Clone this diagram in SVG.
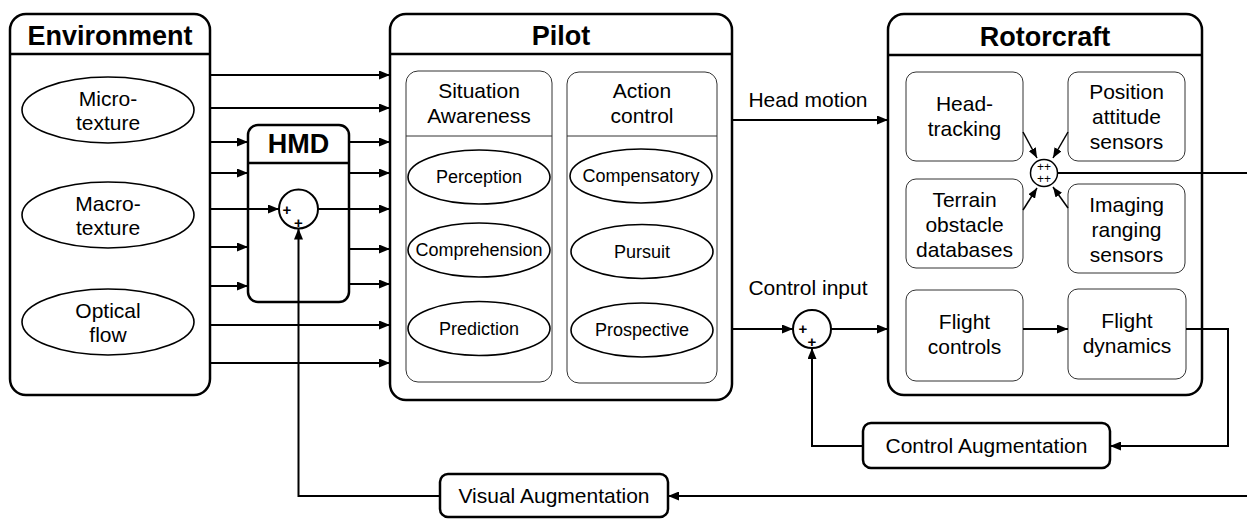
<svg xmlns="http://www.w3.org/2000/svg" width="1247" height="519" viewBox="0 0 1247 519">
<defs>
<marker id="ah" markerUnits="userSpaceOnUse" markerWidth="11" markerHeight="9" refX="11" refY="4.5" orient="auto"><path d="M0,0 L11,4.5 L0,9 z" fill="#000"/></marker>
<marker id="ahs" markerUnits="userSpaceOnUse" markerWidth="10" markerHeight="8" refX="10" refY="4" orient="auto"><path d="M0,0 L10,4 L0,8 z" fill="#000"/></marker>
<style>
.box{fill:#fff;stroke:#000;stroke-width:2.5}
.inner{fill:#fff;stroke:#333;stroke-width:1}
.el{fill:#fff;stroke:#000;stroke-width:1.6}
.hl{stroke:#000;stroke-width:2.5}
.il{stroke:#333;stroke-width:1}
.t{font-family:"Liberation Sans",Arial,sans-serif;font-size:21px;text-anchor:middle;fill:#000}
.s{font-size:18px}
.title{font-weight:bold;font-size:27px}
.pl{font-weight:bold;font-size:15px}
.pp{font-size:12px}
.c{fill:none;stroke:#000;stroke-width:2}
.ca{fill:none;stroke:#000;stroke-width:2;marker-end:url(#ah)}
.cs{fill:none;stroke:#000;stroke-width:1.5;marker-end:url(#ahs)}
.sum{fill:#fff;stroke:#000;stroke-width:2}
</style>
</defs>

<g id="environment">
  <rect class="box" x="10" y="14" width="200" height="381" rx="16"/>
  <line class="hl" x1="10" y1="54" x2="210" y2="54"/>
  <text class="t title" x="110" y="45">Environment</text>
  <ellipse class="el" cx="108" cy="110" rx="86" ry="33"/>
  <text class="t" x="108" y="106">Micro-</text>
  <text class="t" x="108" y="130">texture</text>
  <ellipse class="el" cx="108" cy="215" rx="86" ry="33"/>
  <text class="t" x="108" y="211">Macro-</text>
  <text class="t" x="108" y="235">texture</text>
  <ellipse class="el" cx="108" cy="322" rx="86" ry="33"/>
  <text class="t" x="108" y="318">Optical</text>
  <text class="t" x="108" y="342">flow</text>
</g>

<g id="hmd">
  <rect class="box" x="248" y="125" width="101" height="177" rx="10"/>
  <line class="hl" x1="248" y1="163" x2="349" y2="163"/>
  <text class="t title" x="298.5" y="153">HMD</text>
  <circle class="sum" cx="298.5" cy="209" r="19.5"/>
  <text class="t pl" x="287" y="215">+</text>
  <text class="t pl" x="298.5" y="228">+</text>
</g>

<g id="pilot">
  <rect class="box" x="390" y="14" width="342" height="386" rx="16"/>
  <line class="hl" x1="390" y1="54" x2="732" y2="54"/>
  <text class="t title" x="561" y="45">Pilot</text>
  <rect class="inner" x="406" y="71" width="146" height="311" rx="12"/>
  <line class="il" x1="406" y1="136" x2="552" y2="136"/>
  <text class="t" x="479" y="98">Situation</text>
  <text class="t" x="479" y="123">Awareness</text>
  <rect class="inner" x="567" y="72" width="150" height="311" rx="12"/>
  <line class="il" x1="567" y1="136" x2="717" y2="136"/>
  <text class="t" x="642" y="98">Action</text>
  <text class="t" x="642" y="123">control</text>
  <ellipse class="el" cx="479" cy="177" rx="71" ry="27"/>
  <text class="t s" x="479" y="183">Perception</text>
  <ellipse class="el" cx="479" cy="250" rx="71" ry="27"/>
  <text class="t s" x="479" y="256">Comprehension</text>
  <ellipse class="el" cx="479" cy="328.5" rx="71" ry="27"/>
  <text class="t s" x="479" y="335">Prediction</text>
  <ellipse class="el" cx="641" cy="176" rx="71" ry="27"/>
  <text class="t s" x="641" y="182">Compensatory</text>
  <ellipse class="el" cx="642" cy="251.5" rx="71" ry="27"/>
  <text class="t s" x="642" y="258">Pursuit</text>
  <ellipse class="el" cx="642" cy="330" rx="71" ry="27"/>
  <text class="t s" x="642" y="336">Prospective</text>
</g>

<g id="rotorcraft">
  <rect class="box" x="888" y="14" width="314" height="381" rx="16"/>
  <line class="hl" x1="888" y1="55" x2="1202" y2="55"/>
  <text class="t title" x="1045" y="46">Rotorcraft</text>
  <rect class="inner" x="906" y="72" width="117" height="89" rx="10"/>
  <text class="t" x="964.5" y="111">Head-</text>
  <text class="t" x="964.5" y="136">tracking</text>
  <rect class="inner" x="1068" y="72" width="117" height="89" rx="10"/>
  <text class="t" x="1126.5" y="99">Position</text>
  <text class="t" x="1126.5" y="124">attitude</text>
  <text class="t" x="1126.5" y="149">sensors</text>
  <rect class="inner" x="906" y="179" width="117" height="89" rx="10"/>
  <text class="t" x="964.5" y="207">Terrain</text>
  <text class="t" x="964.5" y="232">obstacle</text>
  <text class="t" x="964.5" y="257">databases</text>
  <rect class="inner" x="1068" y="184" width="117" height="89" rx="10"/>
  <text class="t" x="1126.5" y="212">Imaging</text>
  <text class="t" x="1126.5" y="237">ranging</text>
  <text class="t" x="1126.5" y="262">sensors</text>
  <rect class="inner" x="906" y="290" width="117" height="91" rx="10"/>
  <text class="t" x="964.5" y="329">Flight</text>
  <text class="t" x="964.5" y="354">controls</text>
  <rect class="inner" x="1068" y="289" width="118" height="90" rx="10"/>
  <text class="t" x="1127" y="328">Flight</text>
  <text class="t" x="1127" y="353">dynamics</text>
  <circle cx="1044" cy="173" r="13.5" fill="#fff" stroke="#000" stroke-width="1.5"/>
  <text class="t pp" x="1044" y="171">++</text>
  <text class="t pp" x="1044" y="183">++</text>
</g>

<g id="control-sum">
  <circle class="sum" cx="812" cy="329" r="19"/>
  <text class="t pl" x="803" y="334">+</text>
  <text class="t pl" x="812" y="347">+</text>
</g>

<g id="control-augmentation">
  <rect class="box" x="863" y="423" width="247" height="45" rx="8"/>
  <text class="t" x="986.5" y="453">Control Augmentation</text>
</g>

<g id="visual-augmentation">
  <rect class="box" x="440" y="474" width="228" height="43" rx="8"/>
  <text class="t" x="554" y="503">Visual Augmentation</text>
</g>

<g id="connectors">
  <line class="ca" x1="210" y1="75" x2="390" y2="75"/>
  <line class="ca" x1="210" y1="108" x2="390" y2="108"/>
  <line class="ca" x1="210" y1="325" x2="390" y2="325"/>
  <line class="ca" x1="210" y1="363" x2="390" y2="363"/>
  <line class="ca" x1="210" y1="142" x2="248" y2="142"/>
  <line class="ca" x1="210" y1="173" x2="248" y2="173"/>
  <line class="ca" x1="210" y1="247" x2="248" y2="247"/>
  <line class="ca" x1="210" y1="286" x2="248" y2="286"/>
  <line class="ca" x1="210" y1="209" x2="279" y2="209"/>
  <line class="ca" x1="349" y1="142" x2="390" y2="142"/>
  <line class="ca" x1="349" y1="173" x2="390" y2="173"/>
  <line class="ca" x1="318" y1="209" x2="390" y2="209"/>
  <line class="ca" x1="349" y1="249" x2="390" y2="249"/>
  <line class="ca" x1="349" y1="284" x2="390" y2="284"/>
  <line class="ca" x1="732" y1="120" x2="888" y2="120"/>
  <line class="ca" x1="732" y1="329" x2="793" y2="329"/>
  <line class="ca" x1="831" y1="329" x2="888" y2="329"/>
  <line class="ca" x1="1023" y1="329" x2="1068" y2="329"/>
  <path class="ca" d="M1186,329 H1228 V446 H1110"/>
  <path class="ca" d="M863,446 H812 V348"/>
  <path class="ca" d="M1247,496 H668"/>
  <path class="ca" d="M440,496 H298.5 V228.5"/>
  <line class="c" x1="1057.5" y1="173" x2="1247" y2="173"/>
  <line class="cs" x1="1023" y1="132" x2="1037" y2="158"/>
  <line class="cs" x1="1068" y1="132" x2="1053" y2="158"/>
  <line class="cs" x1="1023" y1="210" x2="1037" y2="188"/>
  <line class="cs" x1="1068" y1="208" x2="1053" y2="187"/>
  <text class="t" x="808" y="107">Head motion</text>
  <text class="t" x="808" y="295">Control input</text>
</g>
</svg>
